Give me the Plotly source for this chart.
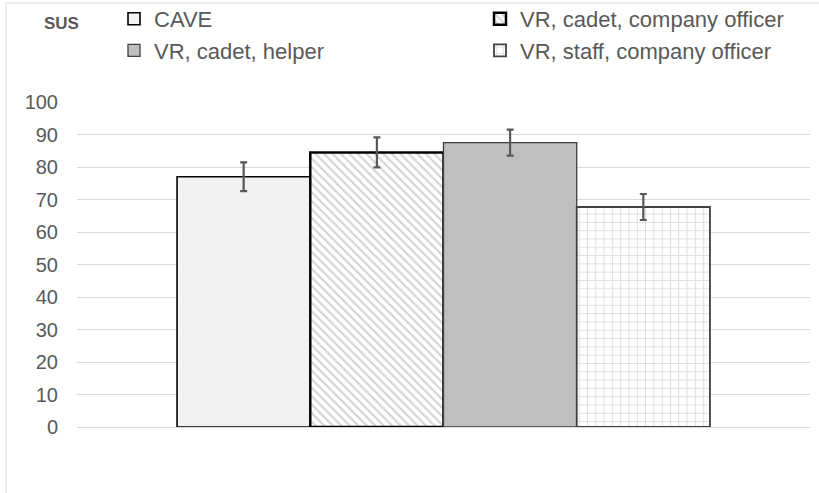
import plotly.graph_objects as go

# SUS scores per condition (mean and error)
conditions = ["CAVE", "VR, cadet, company officer", "VR, cadet, helper", "VR, staff, company officer"]
means = [77.0, 84.5, 87.5, 67.7]
errors = [4.4, 4.6, 4.0, 4.0]
y_ticks = [0, 10, 20, 30, 40, 50, 60, 70, 80, 90, 100]

fills = ["#f2f2f2", "#ffffff", "#bfbfbf", "#ffffff"]
outlines = ["#000000", "#000000", "#404040", "#404040"]
outline_w = [1.6, 2.5, 1.3, 1.8]
patterns = [
    dict(shape=""),
    dict(shape="\\", fgcolor="#a6a6a6", bgcolor="#ffffff", size=6, solidity=0.35),
    dict(shape=""),
    dict(shape="+", fgcolor="#bdbdbd", bgcolor="#ffffff", size=8.3, solidity=0.24),
]
# left column / right column of the legend
legend_ids = ["legend", "legend2", "legend", "legend2"]

fig = go.Figure()
for name, m, e, fc, lc, lw, pat, lg in zip(conditions, means, errors, fills, outlines,
                                           outline_w, patterns, legend_ids):
    fig.add_trace(go.Bar(
        x=[0], y=[m], name=name, legend=lg,
        marker=dict(color=fc, line=dict(color=lc, width=lw), pattern=pat),
        error_y=dict(type="data", array=[e], visible=True, color="#595959", thickness=2.2, width=3.5),
    ))

gray = "#595959"
W, H = 819, 493
L, R, T, B = 77, 9, 102, 66
pw, ph = W - L - R, H - T - B


def px_x(p):
    return (p - L) / pw


def px_y(p):
    return (H - B - p) / ph


legend_style = dict(
    orientation="v", yanchor="top", xanchor="left",
    font=dict(size=22, color=gray), bgcolor="rgba(0,0,0,0)",
    traceorder="normal",
)

fig.update_layout(
    width=W, height=H,
    margin=dict(l=L, r=R, t=T, b=B, autoexpand=False),
    paper_bgcolor="white", plot_bgcolor="white",
    barmode="group", bargap=0.273, bargroupgap=0,
    font=dict(family="Arial, Liberation Sans, sans-serif", color=gray),
    showlegend=True,
    legend=dict(x=px_x(114), y=px_y(-2), **legend_style),
    legend2=dict(x=px_x(480), y=px_y(-2), **legend_style),
    xaxis=dict(range=[-0.5, 0.5], showticklabels=False, showgrid=False, zeroline=False,
               showline=False, fixedrange=True),
    yaxis=dict(range=[0, 100], tickvals=y_ticks, showgrid=True, gridcolor="#d9d9d9",
               gridwidth=1, zeroline=True, zerolinecolor="#d9d9d9", zerolinewidth=1,
               showline=False, tickfont=dict(size=20, color=gray), ticklabelstandoff=18),
    annotations=[dict(
        text="<b>SUS</b>", x=px_x(61), y=px_y(23), xref="paper", yref="paper",
        xanchor="center", yanchor="middle", showarrow=False,
        font=dict(size=17, color=gray),
    )],
    shapes=[
        dict(type="line", xref="paper", yref="paper", x0=px_x(6), x1=px_x(W + 5),
             y0=px_y(3), y1=px_y(3), line=dict(color="#d9d9d9", width=1)),
        dict(type="line", xref="paper", yref="paper", x0=px_x(6), x1=px_x(6),
             y0=px_y(3), y1=px_y(H + 5), line=dict(color="#d9d9d9", width=1)),
    ],
)

fig.write_html("out.html")
